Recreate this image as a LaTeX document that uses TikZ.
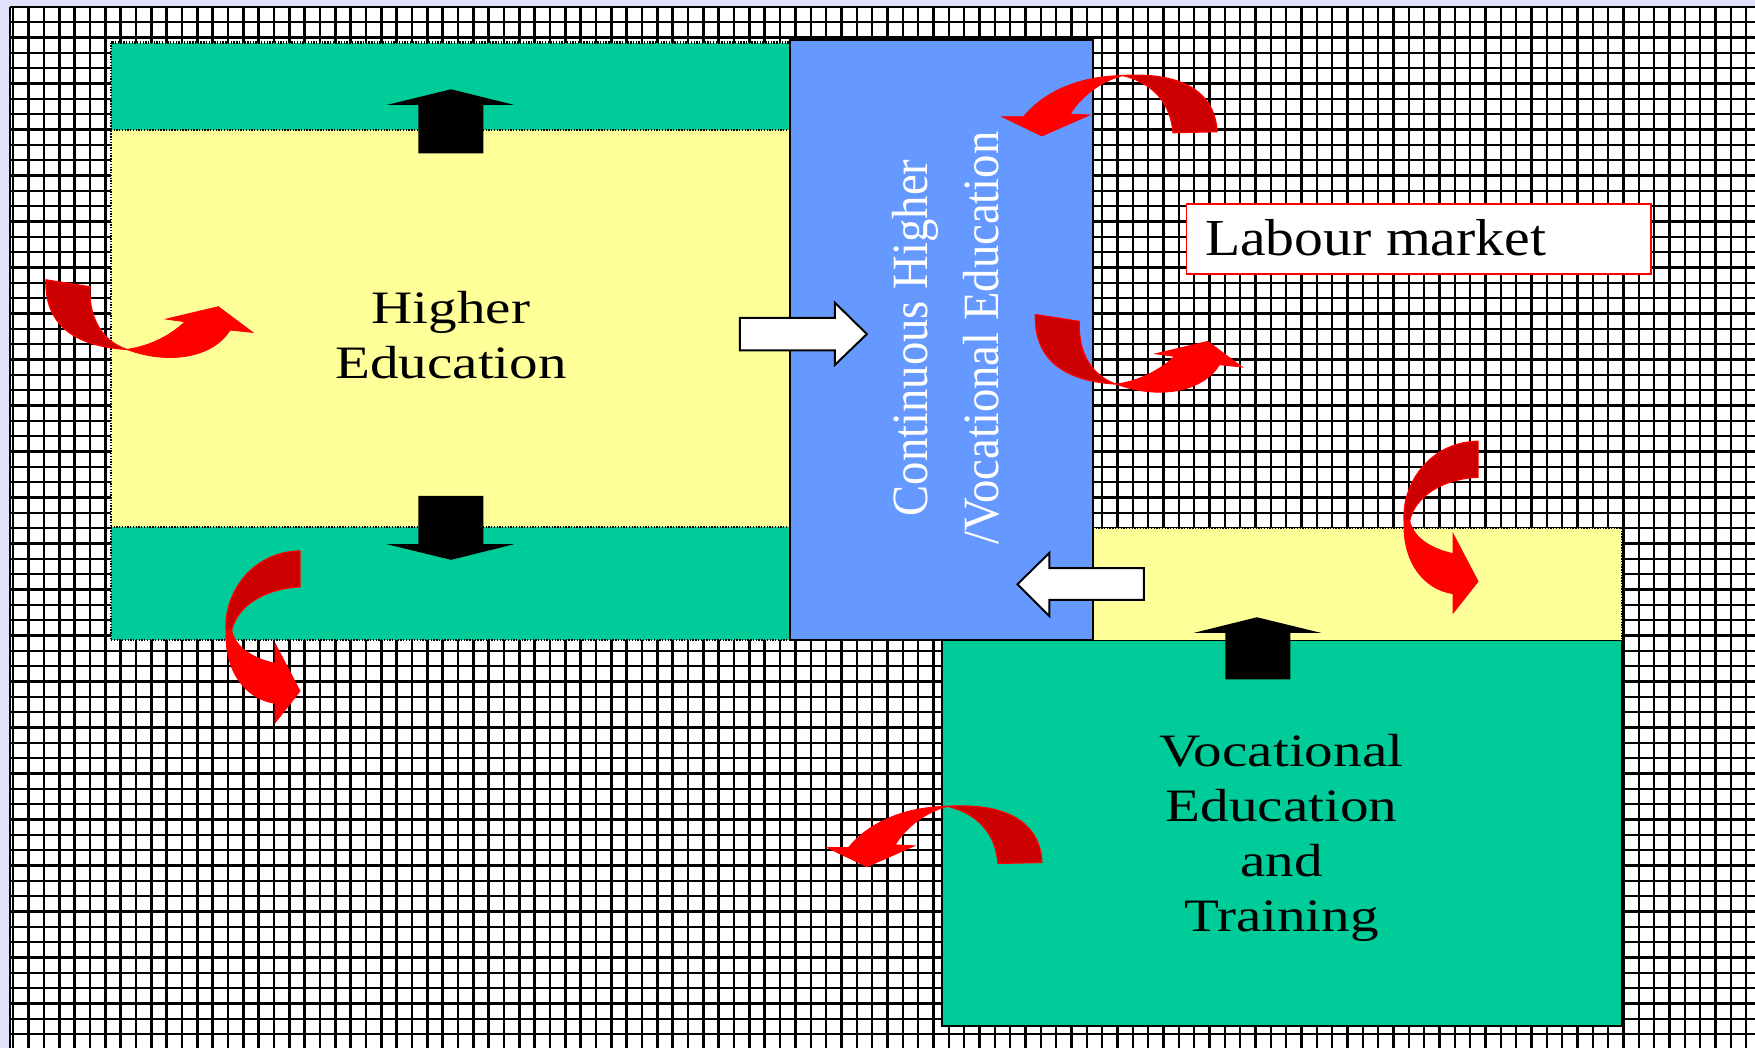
\documentclass[tikz,border=0pt]{standalone}
\usepackage{fontspec}
\setmainfont{Liberation Serif}
\definecolor{hegreen}{HTML}{00CC99}
\definecolor{heyellow}{HTML}{FFFF99}
\definecolor{cvblue}{HTML}{6699FF}
\definecolor{tailred}{HTML}{CC0000}
\definecolor{bglav}{RGB}{226,226,250}
\newcommand{\stretched}[2]{\scalebox{#1}[1]{\begin{tabular}{@{}c@{}}#2\end{tabular}}}
\begin{document}
\begin{tikzpicture}[x=0.01cm,y=-0.01cm,
  gridline/.style={black,line width=0.6pt},
  dotborder/.style={black,line width=0.6pt,dash pattern=on 0.35pt off 0.35pt},
  solidborder/.style={draw=black,line width=0.5pt},
  curveback/.style={fill=tailred,draw=red,line width=0.3pt},
  curvefront/.style={fill=red,draw=red,line width=0.2pt},
  blackarrow/.style={fill=black},
  whitearrow/.style={fill=white,draw=black,line width=0.5pt},
  bigtext/.style={font=\fontsize{11.8}{14}\selectfont,inner sep=0pt},
  curvA/.pic={
    \path[curveback] (41,250) -- (80.4,256.2) .. controls (79,285) and (92,305) .. (113.2,312.2)
      .. controls (60,309) and (40,285) .. (41,250) -- cycle;
    \path[curvefront] (113.2,312.2) .. controls (150,326) and (190,320) .. (205.5,294.9)
      -- (225.8,297) -- (195.1,274) -- (148.3,285.1) -- (165.3,287.5)
      .. controls (150,302) and (130,310) .. (113.2,312.2) -- cycle;
  },
  curvB/.pic={
    \path[curveback] (1048,118.6) -- (1087.3,117.7) .. controls (1086,85) and (1060,64) .. (1003,67.5)
      .. controls (1030,74) and (1046,92) .. (1048,118.6) -- cycle;
    \path[curvefront] (1003,67.5) .. controls (960,68) and (930,85) .. (914.5,104.3)
      -- (895.2,104.3) -- (930.9,121.5) -- (973.5,102.8) -- (956.2,101.9)
      .. controls (965,88) and (980,74) .. (1003,67.5) -- cycle;
  },
  curvE/.pic={
    \path[curveback] (268.1,492.2) -- (268.1,524.4) .. controls (235,526) and (212,542) .. (207,563)
      -- (202,563) .. controls (200,530) and (225,493) .. (268.1,492.2) -- cycle;
    \path[curvefront] (202,563) .. controls (200,600) and (220,625) .. (245.8,628.4)
      -- (245.8,645.8) -- (268.1,617.5) -- (245.8,574.9) -- (245.8,592.7)
      .. controls (225,588) and (210,578) .. (207,563) -- cycle;
  }]
\useasboundingbox (0,0) rectangle (1568,936.3);
% background and grid
\fill[bglav] (0,0) rectangle (1568,936.3);
\fill[white] (9,6) rectangle (1568,936.3);
\draw[gridline] (9,6) -- (9,936.3);
\foreach \i in {0,...,113} \draw[gridline] ({11.9+13.7*\i},6) -- ({11.9+13.7*\i},936.3);
\foreach \j in {0,...,67} \draw[gridline] (9,{6+13.7*\j}) -- (1568,{6+13.7*\j});
% Higher education block
\fill[hegreen] (99,38) rectangle (706,116);
\fill[heyellow] (99,116) rectangle (706,471);
\fill[hegreen] (99,471) rectangle (706,572);
\draw[dotborder] (99,38) rectangle (706,572);
\draw[dotborder] (99,116) -- (706,116);
\draw[dotborder] (99,471) -- (706,471);
% VET block
\fill[hegreen] (842,572) rectangle (1449.5,917);
\draw[solidborder] (842,572) rectangle (1449.5,917);
\fill[heyellow] (976.5,472) rectangle (1449.5,572);
\draw[dotborder] (976.5,472) -- (1449.5,472) -- (1449.5,572);
% Continuous education box
\fill[cvblue] (706,36) rectangle (976.5,572);
\draw[solidborder] (706,36) rectangle (976.5,572);
% Labour market box
\draw[fill=white,draw=red,line width=0.45pt] (1060,182) rectangle (1475,245);
\node[font=\fontsize{13.2}{16}\selectfont,inner sep=0pt,anchor=base west] (lm) at (1076,228)
  {\scalebox{1.11}[1]{Labour market}};
% texts
\node[bigtext] (he) at (403,304) {\stretched{1.23}{Higher\\Education}};
\node[bigtext] (vet) at (1145,749) {\stretched{1.23}{Vocational\\Education\\and\\Training}};
\node[font=\fontsize{12.9}{18}\selectfont,inner sep=0pt,text=white,rotate=90] (cont) at (848,302)
  {\stretched{0.92}{Continuous Higher\\/Vocational Education}};
% black block arrows
\path[blackarrow] (373.7,137) -- (373.7,93.8) -- (345.5,93.8) -- (403,79.8) -- (459.5,93.8) -- (431.8,93.8) -- (431.8,137) -- cycle;
\path[blackarrow] (373.7,443) -- (373.7,486.2) -- (345.5,486.2) -- (403,500.2) -- (459.5,486.2) -- (431.8,486.2) -- (431.8,443) -- cycle;
\path[blackarrow] (1094.7,607) -- (1094.7,565.5) -- (1066.5,565.5) -- (1123,551.5) -- (1180.5,565.5) -- (1152.8,565.5) -- (1152.8,607) -- cycle;
% white block arrows
\path[whitearrow] (661,284) -- (746,284) -- (746,270.5) -- (774.5,298.5) -- (746,326) -- (746,313) -- (661,313) -- cycle;
\path[whitearrow] (1022,507.7) -- (937.6,507.7) -- (937.6,494) -- (909,522) -- (937.6,550.5) -- (937.6,536) -- (1022,536) -- cycle;
% curved red arrows
\pic at (0,0) {curvA};
\pic at (884,31) {curvA};
\pic at (0,0) {curvB};
\pic at (-156.4,652.9) {curvB};
\pic at (0,0) {curvE};
\pic at (1052.5,-98) {curvE};
\end{tikzpicture}
\end{document}
